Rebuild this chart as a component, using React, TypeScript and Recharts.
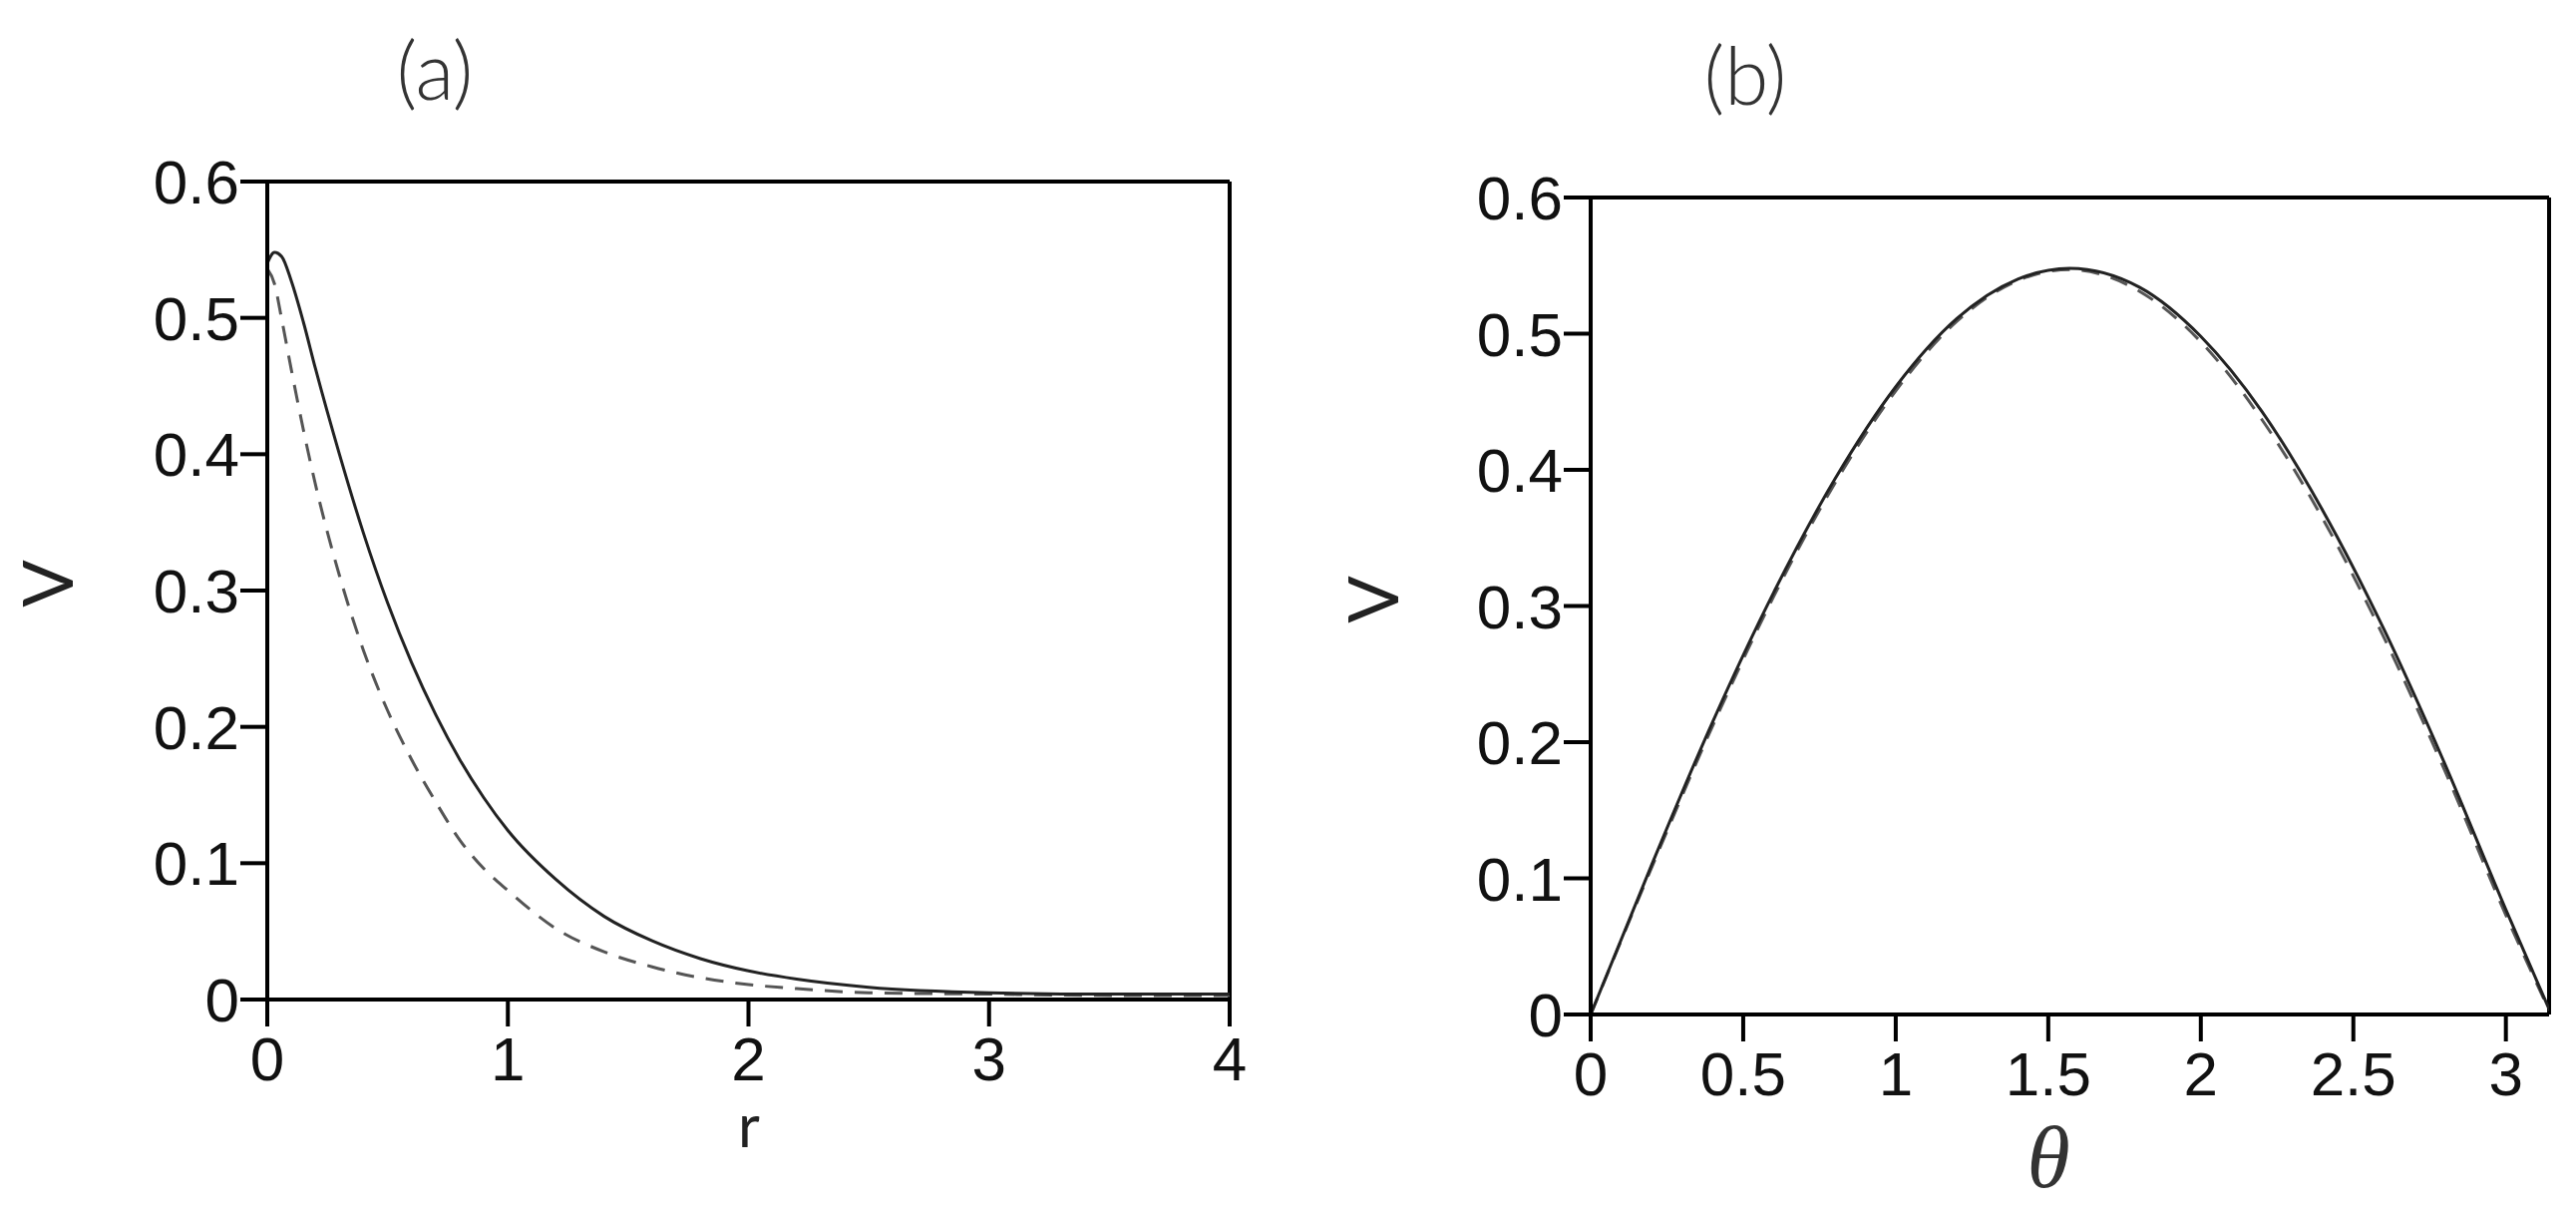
import React from 'react';
import { LineChart, Line, XAxis, YAxis, ReferenceLine } from 'recharts';

// panel (a): V against r
const rValues = [0, 0.03, 0.06, 0.1, 0.15, 0.2, 0.3, 0.4, 0.5, 0.6, 0.7, 0.8, 0.9, 1.0, 1.2, 1.4, 1.6, 1.8, 2.0, 2.2, 2.5, 3.0, 3.5, 4.0];
const vSolidA = [0.540, 0.548, 0.545, 0.527, 0.497, 0.463, 0.400, 0.342, 0.291, 0.247, 0.209, 0.176, 0.148, 0.124, 0.088, 0.061, 0.043, 0.030, 0.021, 0.015, 0.009, 0.005, 0.004, 0.004];
const vDashedA = [0.536, 0.525, 0.499, 0.462, 0.418, 0.378, 0.311, 0.256, 0.212, 0.176, 0.145, 0.117, 0.096, 0.080, 0.052, 0.035, 0.024, 0.016, 0.011, 0.008, 0.005, 0.004, 0.003, 0.003];
const rTicks = [0, 1, 2, 3, 4];

// panel (b): V against theta
const thetaValues = [0, 0.2, 0.4, 0.6, 0.8, 1.0, 1.2, 1.4, 1.57, 1.8, 2.0, 2.2, 2.4, 2.6, 2.8, 3.0, 3.1416];
const vSolidB = [0, 0.110, 0.215, 0.310, 0.393, 0.461, 0.511, 0.540, 0.548, 0.534, 0.498, 0.443, 0.370, 0.283, 0.184, 0.077, 0.004];
const vDashedB = [0, 0.108, 0.212, 0.307, 0.390, 0.458, 0.509, 0.539, 0.547, 0.531, 0.494, 0.437, 0.364, 0.277, 0.179, 0.073, 0.003];
const thetaTicks = [0, 0.5, 1, 1.5, 2, 2.5, 3];

const vTicks = [0, 0.1, 0.2, 0.3, 0.4, 0.5, 0.6];

const dataA = rValues.map((r, i) => ({ x: r, solid: vSolidA[i], dashed: vDashedA[i] }));
const dataB = thetaValues.map((t, i) => ({ x: t, solid: vSolidB[i], dashed: vDashedB[i] }));

const tickFont = { fontFamily: 'Liberation Sans, Arial, sans-serif', fontSize: 62, fill: '#111' };
const axisStroke = { stroke: '#000', strokeWidth: 4 };

function Panel({ data, xMax, xTicks, width, margin, yWidth, xHeight }: any) {
  return (
    <LineChart width={width} height={1216} data={data} margin={margin}>
      <XAxis
        dataKey="x"
        type="number"
        domain={[0, xMax]}
        ticks={xTicks}
        allowDataOverflow
        axisLine={axisStroke}
        tickLine={axisStroke}
        tickSize={27}
        tickMargin={10}
        tick={tickFont}
        height={xHeight}
      />
      <YAxis
        type="number"
        domain={[0, 0.6]}
        ticks={vTicks}
        axisLine={axisStroke}
        tickLine={axisStroke}
        tickSize={27}
        tickMargin={1}
        tick={tickFont}
        width={yWidth}
      />
      <ReferenceLine y={0.6} stroke="#000" strokeWidth={4} />
      <ReferenceLine x={xMax} stroke="#000" strokeWidth={4} />
      <Line type="monotone" dataKey="dashed" stroke="#555" strokeWidth={3} strokeDasharray="18 12" dot={false} isAnimationActive={false} />
      <Line type="monotone" dataKey="solid" stroke="#222" strokeWidth={3} dot={false} isAnimationActive={false} />
    </LineChart>
  );
}

export default function App() {
  return (
    <div style={{ position: 'absolute', left: 0, top: 0, width: 2583, height: 1216, background: '#fff' }}>
      <div style={{ position: 'absolute', left: 0, top: 0 }}>
        <Panel data={dataA} xMax={4} xTicks={rTicks} width={1300}
          margin={{ top: 182, right: 67, bottom: 0, left: 168 }} yWidth={100} xHeight={214} />
      </div>
      <div style={{ position: 'absolute', left: 1300, top: 0 }}>
        <Panel data={dataB} xMax={Math.PI} xTicks={thetaTicks} width={1283}
          margin={{ top: 198, right: 27, bottom: 0, left: 195 }} yWidth={100} xHeight={199} />
      </div>
      {/* titles and axis labels */}
      <svg width={2583} height={1216} style={{ position: 'absolute', left: 0, top: 0, pointerEvents: 'none' }}>
        <g fontFamily="Lato, Liberation Sans, sans-serif" fontWeight={300} fill="#333">
          <text x={436} y={100} fontSize={80} textAnchor="middle">(a)</text>
          <text x={1750} y={105} fontSize={80} textAnchor="middle">(b)</text>
          <text x={46} y={585} fontSize={70} fontWeight={400} fill="#222" textAnchor="middle" dominantBaseline="central" transform="rotate(-90 46 585)">V</text>
          <text x={1375} y={601} fontSize={70} fontWeight={400} fill="#222" textAnchor="middle" dominantBaseline="central" transform="rotate(-90 1375 601)">V</text>
          <text x={751} y={1150} fontSize={60} fontWeight={400} textAnchor="middle" fill="#222">r</text>
          <text x={2054} y={1190} fontSize={88} textAnchor="middle" fontStyle="italic" fontWeight={400} fontFamily="Liberation Serif, serif">θ</text>
        </g>
      </svg>
    </div>
  );
}
